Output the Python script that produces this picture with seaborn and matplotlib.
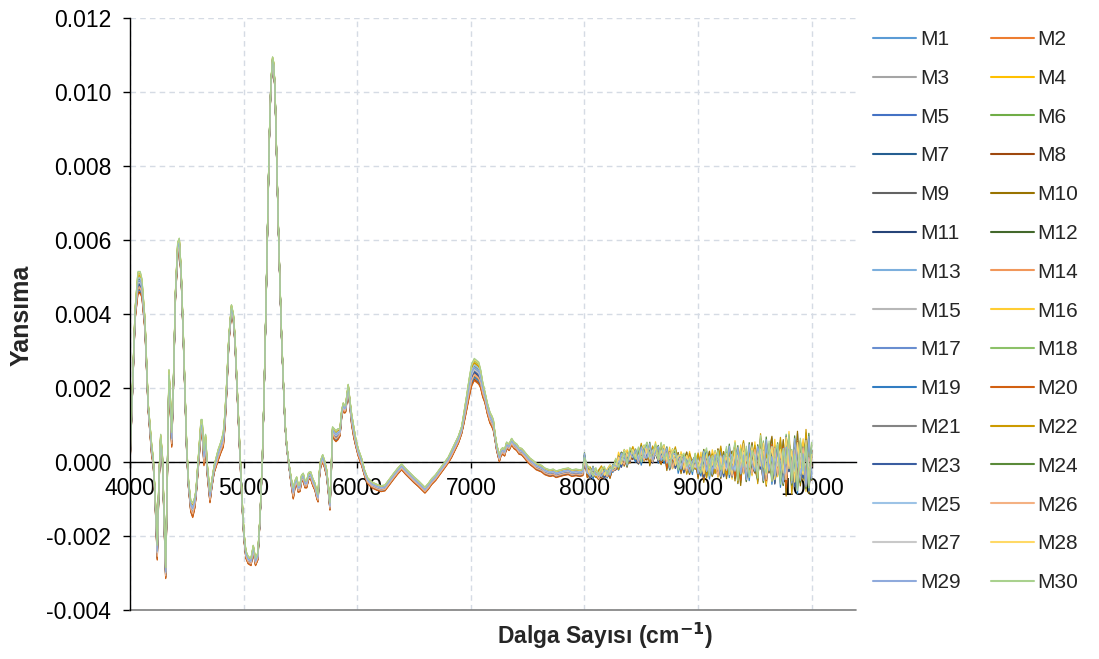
import numpy as np
import pandas as pd
import matplotlib
matplotlib.use("Agg")
import matplotlib.pyplot as plt
from matplotlib.lines import Line2D
import seaborn as sns

# ---- mean reflectance profile (values in units of 1e-3) ----
wavenumber_main = [
    4000, 4020, 4045, 4070, 4090, 4105, 4132, 4160, 4190, 4205,
    4220, 4240, 4255, 4270, 4285, 4300, 4314, 4328, 4343, 4355,
    4367, 4380, 4400, 4420, 4434, 4450, 4469, 4499, 4515, 4535,
    4552, 4570, 4581, 4607, 4625, 4635, 4651, 4665, 4680, 4704,
    4720, 4740, 4777, 4800, 4821, 4835, 4851, 4870, 4893, 4910,
    4924, 4945, 4968, 4985, 5003, 5020, 5040, 5065, 5085, 5105,
    5125, 5144, 5165, 5180, 5197, 5212, 5226, 5240, 5255, 5265,
    5276, 5290, 5305, 5320, 5335, 5350, 5364, 5380, 5402, 5420,
    5437, 5452, 5467, 5481, 5496, 5510, 5525, 5540, 5555, 5572,
    5590, 5610, 5628, 5645, 5655, 5665, 5678, 5696, 5712, 5731,
    5748, 5760, 5772, 5783, 5798, 5813, 5830, 5848, 5863, 5877,
    5890, 5898, 5910, 5921, 5935, 5951, 5970, 5989, 6010, 6039,
    6065, 6090, 6130, 6171, 6210, 6244, 6280, 6317, 6355, 6391,
    6425, 6464, 6500, 6537, 6570, 6596, 6625, 6655, 6690, 6728,
    6765, 6801, 6830, 6860, 6890, 6919, 6940, 6963, 6985, 7007,
    7030, 7051, 7070, 7086, 7105, 7124, 7145, 7168, 7185, 7198,
    7212, 7227, 7251, 7265, 7280, 7297, 7315, 7337, 7359, 7380,
    7403, 7425, 7447, 7470, 7491, 7520, 7550, 7575, 7600, 7623,
    7650, 7675, 7697, 7725, 7750, 7785, 7820, 7858, 7890, 7925,
    7960, 7985,
]
reflect_main = [
    0.0, 1.8, 4.0, 4.85, 4.85, 4.7, 3.7, 1.5, 0.35, 0.0,
    -0.9, -2.45, -0.5, 0.6, 0.1, -1.5, -3.0, -0.5, 2.3, 1.6,
    0.6, 1.8, 4.5, 5.75, 5.9, 5.1, 3.4, 0.35, -0.6, -1.2,
    -1.3, -1.1, -0.85, 0.2, 0.95, 0.95, 0.1, 0.55, -0.2, -0.95,
    -0.6, -0.2, 0.2, 0.4, 0.6, 1.1, 2.0, 3.3, 4.15, 3.9,
    3.3, 1.8, 0.2, -1.0, -2.0, -2.5, -2.65, -2.7, -2.35, -2.7,
    -2.55, -1.55, 0.05, 1.8, 4.2, 6.6, 8.7, 10.2, 10.85, 10.7,
    10.1, 8.3, 6.45, 4.8, 3.3, 2.1, 1.05, 0.4, -0.15, -0.55,
    -0.85, -0.6, -0.5, -0.72, -0.7, -0.45, -0.4, -0.6, -0.6, -0.38,
    -0.36, -0.55, -0.67, -0.9, -0.98, -0.4, -0.05, 0.1, -0.05, -0.3,
    -0.8, -1.2, -0.2, 0.85, 0.75, 0.7, 0.75, 0.8, 1.3, 1.5,
    1.42, 1.45, 1.75, 2.0, 1.6, 1.15, 0.8, 0.5, 0.25, 0.0,
    -0.3, -0.5, -0.62, -0.68, -0.72, -0.7, -0.55, -0.4, -0.25, -0.13,
    -0.25, -0.37, -0.48, -0.58, -0.68, -0.76, -0.66, -0.53, -0.42, -0.26,
    -0.1, 0.05, 0.22, 0.41, 0.6, 0.86, 1.2, 1.6, 2.0, 2.35,
    2.5, 2.45, 2.4, 2.25, 1.95, 1.75, 1.45, 1.2, 1.1, 1.0,
    0.7, 0.4, 0.1, 0.25, 0.3, 0.25, 0.45, 0.4, 0.55, 0.45,
    0.4, 0.3, 0.28, 0.2, 0.12, 0.02, -0.05, -0.12, -0.15, -0.18,
    -0.25, -0.28, -0.3, -0.28, -0.33, -0.3, -0.27, -0.25, -0.3, -0.28,
    -0.3, -0.28,
]
# sample-to-sample spread around the mean profile
spread_main = (
    [0.1, 0.1, 0.15, 0.3, 0.3, 0.25, 0.15, 0.1, 0.15, 0.1]
    + [0.1, 0.2, 0.1, 0.15, 0.1, 0.1, 0.15, 0.1, 0.2, 0.2]
    + [0.2, 0.1, 0.1, 0.2, 0.15, 0.1, 0.1, 0.1, 0.1, 0.15]
    + [0.2, 0.15, 0.1, 0.15, 0.2, 0.2, 0.2, 0.2, 0.15, 0.15]
    + [0.1, 0.1, 0.15, 0.15, 0.2, 0.2, 0.15, 0.1, 0.1, 0.1]
    + [0.1] * 10
    + [0.1, 0.05, 0.05, 0.05, 0.05, 0.05, 0.05, 0.05, 0.1, 0.1]
    + [0.05] * 9 + [0.1]
    + [0.15] + [0.1] * 9
    + [0.1] * 10
    + [0.1, 0.1, 0.1, 0.1, 0.15, 0.15, 0.15, 0.1, 0.1, 0.1]
    + [0.1, 0.1, 0.1, 0.1, 0.1, 0.15, 0.15, 0.1, 0.1, 0.1]
    + [0.08] * 20
    + [0.08, 0.08, 0.1, 0.1, 0.1, 0.1, 0.15, 0.2, 0.25, 0.3]
    + [0.3, 0.3, 0.3, 0.25, 0.2, 0.15, 0.15, 0.15, 0.15, 0.15]
    + [0.09] * 32
)

# ---- noisy high-wavenumber region, 8000-10000 every 25 cm-1 ----
wavenumber_tail = list(range(8000, 10001, 25))
reflect_tail = [
    0.1, -0.25, -0.3, -0.28, -0.3, -0.32, -0.3, -0.3, -0.28,
    -0.25, -0.18, -0.1, -0.02, 0.05, 0.1, 0.13, 0.15, 0.16,
    0.17, 0.19, 0.2, 0.21, 0.22, 0.22, 0.22, 0.21, 0.2,
    0.18, 0.16, 0.13, 0.1, 0.08, 0.05, 0.03, 0.01, -0.01,
    -0.03, -0.05, -0.07, -0.08, -0.08, -0.08, -0.08, -0.07, -0.07,
    -0.06, -0.05, -0.05, -0.04, -0.03, -0.03, -0.02, -0.01, -0.01,
    0.0, 0.0, 0.01, 0.01, 0.02, 0.02, 0.02, 0.02, 0.02,
    0.01, 0.01, 0.01, 0.01, 0.0, 0.0, 0.0, 0.0, -0.01,
    -0.01, -0.02, -0.02, -0.02, -0.03, -0.03, -0.03, -0.04, -0.05,
]
ripple_amp_tail = ([0.15] * 12 + [0.25] * 9 + [0.3] * 19 + [0.4] * 11
                   + [0.55] * 10 + [0.65] * 10 + [0.8] * 10)
ripple_patterns = [
    [3, -5, 7, -2, -8, 4, 9, -3, -6, 5, -1, 8, -7, 2, 6, -9, 1, 7,
     -4, -2, 9, -6, 3, -8, 5, 0, -5, 8, -3, 6, -7, 2, 9, -1, -6, 4,
     -9, 7, 1, -4, 6, -2, 8, -8, 3, 5, -6, 1, 9, -3, -7, 4, -1, 7,
     -9, 2, 8, -5, 3, -2, 6, -8, 9, -4, 1, 5, -7, 3, -3, 8, -6, 2,
     7, -9, 4, -1, 6, -5, 9, -2, -4],
    [-6, 2, -9, 5, 1, -4, 7, -8, 3, 9, -2, -6, 4, -7, 8, 1, -5, 6,
     -3, -9, 2, 7, -1, 5, -8, 4, -6, 1, 9, -4, -2, 8, -7, 3, 5, -9,
     6, -1, -5, 9, -3, 2, -8, 7, -4, -2, 8, -6, 3, -9, 6, 1, -7, 5,
     2, -4, 9, -8, -1, 7, -5, 4, -3, 8, -7, -2, 6, -9, 1, 5, -6, 9,
     -3, 4, -8, 7, -2, -5, 8, -9, 3],
    [8, -3, -6, 9, -4, 1, -7, 5, 2, -8, 6, -1, -5, 7, 3, -9, 4, -2,
     6, -7, 8, -3, -4, 9, -6, 2, 7, -5, -1, 8, -9, 4, 6, -3, -7, 5,
     1, -8, 3, 7, -6, -2, 9, -5, 4, -7, 6, 2, -9, 5, -3, 8, -4, -1,
     7, -6, 3, -9, 8, -2, -5, 6, 1, -8, 9, -4, 2, -6, 7, -3, -9, 5,
     4, -7, 8, -1, -6, 3, -8, 9, -5],
    [-2, 7, 4, -9, 6, -5, 2, 8, -7, 3, -4, 9, -6, -2, 5, -8, 7, 1,
     -5, 6, -9, 3, 8, -4, -1, 7, -6, 9, -5, 2, -8, 4, 7, -9, 1, 6,
     -4, 3, -7, 8, -2, -6, 5, 9, -8, 4, -3, 7, -5, -1, 9, -6, 2, 8,
     -9, 5, -3, 6, -8, 4, 1, -7, 9, -2, -5, 7, -8, 3, 6, -9, 4, -1,
     8, -6, 2, -9, 7, -3, 5, -8, 6],
    [5, -8, 1, 6, -3, -7, 9, -2, 4, -9, 7, -4, 1, 8, -6, 3, -5, 9,
     -1, -7, 5, -2, 9, -8, 4, 6, -3, -6, 8, -9, 5, 1, -4, 7, -8, 2,
     9, -5, -3, 6, -7, 4, -9, 1, 8, -6, -2, 9, -4, 7, -8, 3, 5, -7,
     4, -9, 6, 1, -5, 8, -3, -6, 7, -1, -8, 4, 9, -7, 2, -4, 8, -9,
     6, -2, -5, 9, -6, 1, 7, -8, 4],
    [-7, 4, 8, -6, 2, -9, 5, 3, -8, 7, -3, -5, 9, -1, -7, 6, -4, 8,
     2, -9, 4, -6, 7, 1, -8, 9, -5, -2, 6, -4, 8, -9, 3, -6, 7, 1,
     -8, 9, -5, 2, -3, 7, -7, 4, -6, 8, 1, -9, 5, -4, 6, -2, -8, 9,
     -3, 7, -6, 4, -1, -7, 8, -5, 3, 6, -9, 2, -4, 8, -6, 5, -2, -7,
     9, -4, 6, -8, 1, 7, -9, 3, -1],
]

# ---- samples ----
series_names = [f"M{i}" for i in range(1, 31)]
series_shift = [0.3, -0.8, 0.1, 0.6, -0.2, 0.9, -0.5, -0.9, 0.0, -0.6,
                -0.3, 0.4, 0.2, -0.4, 0.5, 0.7, 0.1, 0.8, -0.7, -1.0,
                -0.1, 0.6, -0.2, 0.3, 0.4, -0.5, 0.0, 0.9, 0.2, 1.0]
series_pattern = [0, 1, 2, 3, 4, 5, 1, 2, 3, 4, 5, 0, 2, 3, 4,
                  5, 0, 1, 3, 4, 5, 0, 1, 2, 4, 5, 0, 1, 2, 3]
series_gain = [1.0, 0.8, 0.6, 0.9, 1.0, 0.7, 0.8, 0.9, 0.7, 1.1,
               0.8, 0.9, 0.6, 0.7, 0.5, 1.0, 0.8, 0.9, 1.0, 0.8,
               0.7, 1.1, 0.9, 1.0, 0.6, 0.7, 0.5, 0.8, 0.9, 1.0]
series_colors = [
    "#5B9BD5", "#ED7D31", "#A5A5A5", "#FFC000", "#4472C4", "#70AD47",
    "#255E91", "#9E480E", "#636363", "#997300", "#264478", "#43682B",
    "#7CAFDD", "#F1975A", "#B7B7B7", "#FFCD33", "#698ED0", "#8CC168",
    "#327DC2", "#D26012", "#848484", "#CC9A00", "#3A5DA0", "#5A8A39",
    "#9DC3E6", "#F4B183", "#C9C9C9", "#FFD966", "#8FAADC", "#A9D18E",
]

# ---- long-form table ----
wn_all = np.array(wavenumber_main + wavenumber_tail, dtype=float)
base_main = np.array(reflect_main)
sp_main = np.array(spread_main)
base_tail = np.array(reflect_tail)
amp_tail = np.array(ripple_amp_tail)
frames = []
for name, sh, pat, g in zip(series_names, series_shift, series_pattern, series_gain):
    y_main = base_main + sh * sp_main
    y_tail = base_tail + sh * 0.05 + g * amp_tail * np.array(ripple_patterns[pat]) / 9.0
    frames.append(pd.DataFrame({
        "Dalga": wn_all,
        "Yansima": np.concatenate([y_main, y_tail]) * 1e-3,
        "Numune": name,
    }))
df = pd.concat(frames, ignore_index=True)

# ---- figure ----
sns.set_style("white")
plt.rcParams["font.family"] = ["Liberation Sans", "DejaVu Sans"]
plt.rcParams["axes.unicode_minus"] = False

W, H = 1099, 659
fig = plt.figure(figsize=(W / 100, H / 100), dpi=100)
ax = fig.add_axes([130 / W, 1 - 610 / H, (856 - 130) / W, (610 - 18) / H])

sns.lineplot(data=df, x="Dalga", y="Yansima", hue="Numune",
             hue_order=series_names, palette=series_colors,
             estimator=None, sort=False, linewidth=0.9,
             legend=False, ax=ax)

ax.set_xlim(4000, 10390)
ax.set_ylim(-0.004, 0.012)
ax.set_xticks(np.arange(4000, 10001, 1000))
ax.set_yticks(np.arange(-0.004, 0.01201, 0.002))
ax.yaxis.set_major_formatter(matplotlib.ticker.FormatStrFormatter("%.3f"))

ax.set_axisbelow(True)
ax.grid(True, color="#D5DBE4", linestyle=(0, (4, 3)), linewidth=1.0)

for s in ("top", "right"):
    ax.spines[s].set_visible(False)
ax.spines["bottom"].set_position(("data", 0))
ax.spines["bottom"].set_color("black")
ax.spines["bottom"].set_linewidth(1.0)
ax.spines["bottom"].set_zorder(1.5)
ax.spines["left"].set_color("black")
ax.spines["left"].set_linewidth(1.0)
ax.axhline(-0.004, color="#7F7F7F", linewidth=1.2, clip_on=False)

ax.tick_params(axis="y", direction="out", length=5, width=1, pad=8.5,
               labelsize=16.5, colors="black", left=True)
ax.tick_params(axis="x", direction="out", length=4, width=1, pad=7,
               labelsize=16.5, colors="black", bottom=True)

ax.set_xlabel("")
ax.set_ylabel("")
fig.text(605 / W, 1 - 636 / H, "Dalga Sayısı (cm$^{\\mathbf{-1}}$)",
         ha="center", va="center", fontsize=16.5, fontweight="bold")
fig.text(22 / W, 1 - 315 / H, "Yansıma", rotation=90,
         ha="center", va="center", fontsize=18, fontweight="bold")

# legend laid out row-wise in two columns
handles = [Line2D([0], [0], color=c, lw=1.5) for c in series_colors]
order = list(range(0, 30, 2)) + list(range(1, 30, 2))
fig.legend([handles[i] for i in order], [series_names[i] for i in order],
           ncol=2, loc="upper left", bbox_to_anchor=(873 / W, 1 - 30 / H),
           frameon=False, fontsize=15, handlelength=2.05,
           handletextpad=0.2, columnspacing=1.45, labelspacing=0.95,
           borderpad=0, borderaxespad=0)

fig.savefig("out.png", dpi=100)
